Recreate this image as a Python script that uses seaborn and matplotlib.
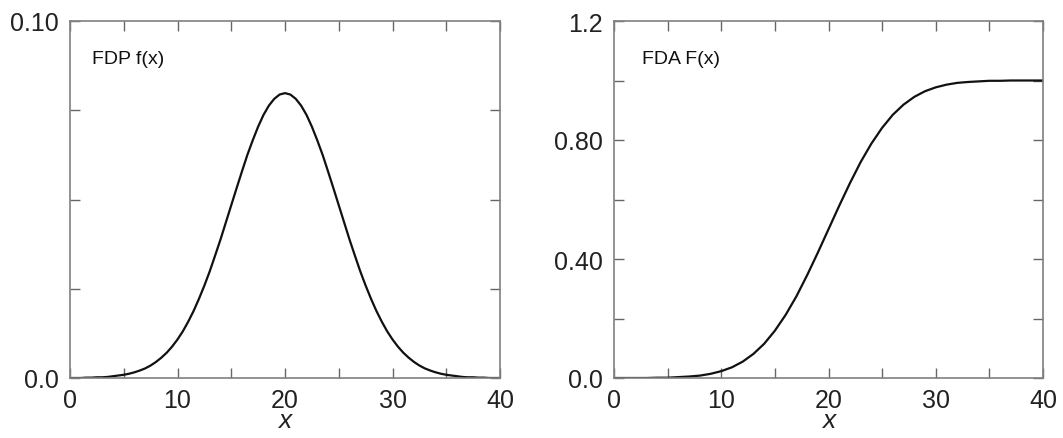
import numpy as np
import pandas as pd
import matplotlib
matplotlib.use("Agg")
import matplotlib.pyplot as plt
import seaborn as sns

# density every half unit of x, 0 to 40
pdf_x = [i * 0.5 for i in range(81)]
pdf_vals = [0.0000, 0.0000, 0.0000, 0.0001, 0.0001, 0.0002, 0.0002, 0.0003,
            0.0005, 0.0007, 0.0009, 0.0012, 0.0016, 0.0021, 0.0027, 0.0035,
            0.0045, 0.0057, 0.0071, 0.0088, 0.0108, 0.0131, 0.0158, 0.0188,
            0.0222, 0.0259, 0.0299, 0.0343, 0.0388, 0.0436, 0.0484, 0.0532,
            0.0579, 0.0625, 0.0666, 0.0704, 0.0737, 0.0763, 0.0782, 0.0794,
            0.0798,
            0.0794, 0.0782, 0.0763, 0.0737, 0.0704, 0.0666, 0.0625, 0.0579,
            0.0532, 0.0484, 0.0436, 0.0388, 0.0343, 0.0299, 0.0259, 0.0222,
            0.0188, 0.0158, 0.0131, 0.0108, 0.0088, 0.0071, 0.0057, 0.0045,
            0.0035, 0.0027, 0.0021, 0.0016, 0.0012, 0.0009, 0.0007, 0.0005,
            0.0003, 0.0002, 0.0002, 0.0001, 0.0001, 0.0000, 0.0000, 0.0000]

# cumulative curve, one per unit of x
cdf_x = list(range(0, 41))
cdf_vals = [0.000, 0.000, 0.000, 0.000, 0.001, 0.001, 0.003, 0.005,
            0.008, 0.014, 0.023, 0.036, 0.055, 0.081, 0.115, 0.159,
            0.212, 0.274, 0.345, 0.421, 0.500, 0.579, 0.655, 0.726,
            0.788, 0.841, 0.885, 0.919, 0.945, 0.964, 0.977, 0.986,
            0.992, 0.995, 0.997, 0.999, 0.999, 1.000, 1.000, 1.000,
            1.000]

x_ticks = list(range(0, 41, 5))
x_tick_labels = ["0", "", "10", "", "20", "", "30", "", "40"]
pdf_ticks = [0.0, 0.025, 0.05, 0.075, 0.10]
pdf_tick_labels = ["0.0", "", "", "", "0.10"]
cdf_ticks = [0.0, 0.2, 0.4, 0.6, 0.8, 1.0, 1.2]
cdf_tick_labels = ["0.0", "", "0.40", "", "0.80", "", "1.2"]

sns.set_style("ticks")
plt.rcParams["font.family"] = ["Liberation Sans", "DejaVu Sans"]

pdf_df = pd.DataFrame({"x": pdf_x, "y": pdf_vals})
cdf_df = pd.DataFrame({"x": cdf_x, "y": cdf_vals})

fig = plt.figure(figsize=(10.63, 4.39), dpi=100)
W, H = 1063, 439
ax1 = fig.add_axes([70 / W, (H - 379) / H, 430 / W, 357 / H])
ax2 = fig.add_axes([614 / W, (H - 379) / H, 429 / W, 357 / H])


def style_axis(ax, yticks, ylabels, ymax, label, label_x):
    ax.set_xlim(0, 40)
    ax.set_ylim(0, ymax)
    ax.set_xticks(x_ticks)
    ax.set_xticklabels(x_tick_labels)
    ax.set_yticks(yticks)
    ax.set_yticklabels(ylabels)
    ax.tick_params(direction="in", length=7.5, width=1, color="#666666",
                   top=True, right=True, labelsize=18, labelcolor="#222222")
    ax.tick_params(axis="x", pad=7.5)
    ax.tick_params(axis="y", pad=8)
    for sp in ax.spines.values():
        sp.set_color("#808080")
        sp.set_linewidth(1.2)
        sp.set_visible(True)
    ax.set_xlabel("x", fontsize=19, style="italic", labelpad=-3,
                  color="#222222")
    ax.set_ylabel("")
    ax.text(label_x, 0.895, label, transform=ax.transAxes, fontsize=14,
            color="#111111", va="center", ha="left")


sns.lineplot(data=pdf_df, x="x", y="y", ax=ax1, color="#111111",
             linewidth=1.6)
style_axis(ax1, pdf_ticks, pdf_tick_labels, 0.10, "FDP f(x)", 0.05)

sns.lineplot(data=cdf_df, x="x", y="y", ax=ax2, color="#111111",
             linewidth=1.6)
style_axis(ax2, cdf_ticks, cdf_tick_labels, 1.2, "FDA F(x)", 0.066)

fig.savefig("out.png", dpi=100)
